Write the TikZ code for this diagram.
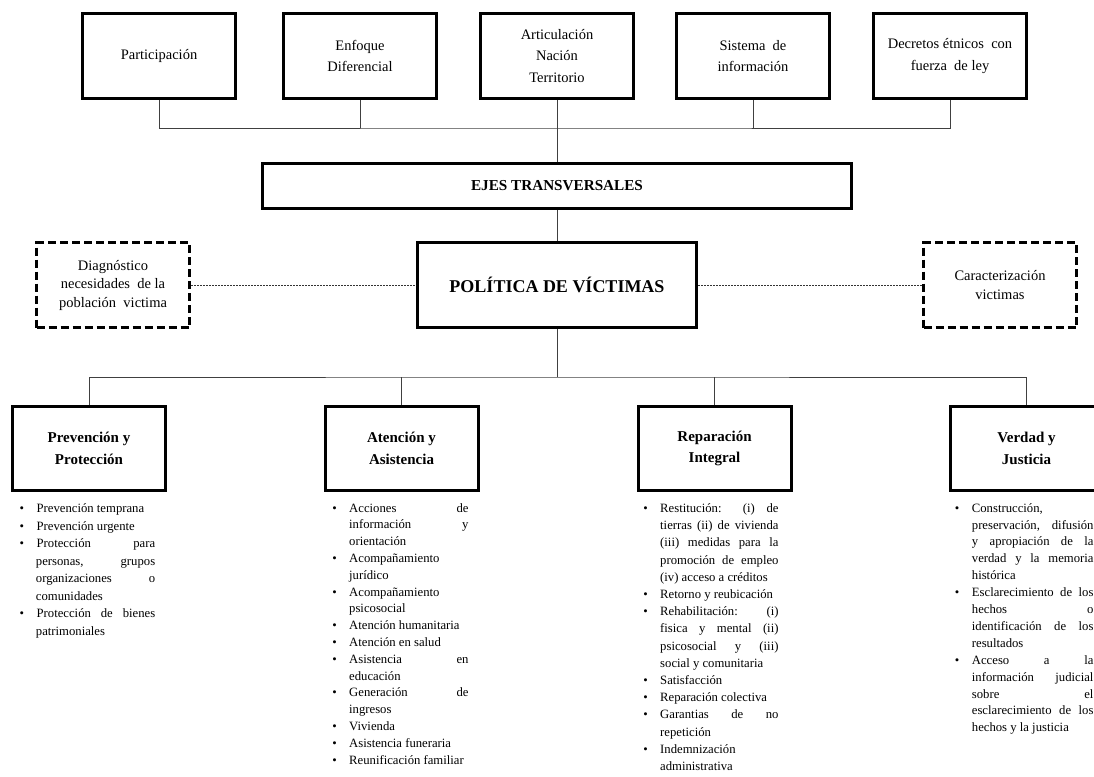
\documentclass[tikz,border=0pt]{standalone}
\usepackage{fontspec}
\setmainfont{Liberation Serif}
\newenvironment{bltlist}[1]{\begin{list}{\textbullet}{\setlength\leftmargin{#1}\setlength\labelsep{12.5pt}\setlength\labelwidth{\dimexpr#1-12.5pt\relax}\setlength\itemsep{0pt}\setlength\parsep{0pt}\setlength\topsep{0pt}\setlength\partopsep{0pt}\setlength\itemindent{0pt}\setlength\listparindent{0pt}\setlength\rightmargin{0pt}}\hyphenpenalty=10000 \exhyphenpenalty=10000 \tolerance=10000 \hbadness=10000 \parskip=0pt}{\end{list}}
\begin{document}
\begin{tikzpicture}[x=1pt,y=-1pt,
  box/.style={draw, line width=3pt, inner sep=0pt, align=center, minimum width=153, minimum height=85},
  topfont/.style={font=\fontsize{14.5}{21.5}\selectfont},
  headfont/.style={font=\fontsize{15}{21.7}\selectfont\bfseries},
  dbox/.style={box, dash pattern=on 8pt off 4pt, font=\fontsize{14.5}{18.5}\selectfont},
  conn/.style={draw=black!75, line width=1pt},
  dconn/.style={draw=black!80, line width=0.9pt, dash pattern=on 2pt off 1pt},
  lst/.style n args={2}{anchor=north west, inner sep=0pt, text width=#1, align=justify, font=\fontsize{12.7}{#2}\selectfont}
]
\useasboundingbox (0,0) rectangle (1094,776);
\clip (0,0) rectangle (1094,776);

% top boxes
\node[box, topfont] (p1) at (159,56) {Participación};
\node[box, topfont] (p2) at (360,56) {Enfoque\\Diferencial};
\node[box, topfont] (p3) at (557,56) {Articulación\\Nación\\Territorio};
\node[box, topfont] (p4) at (753,56) {Sistema\ \ de\\información};
\node[box, topfont] (p5) at (950,56) {Decretos étnicos\ \ con\\fuerza\ \ de ley};

% central
\node[box, minimum width=589, minimum height=45, font=\fontsize{15.2}{18}\selectfont\bfseries] (ejes) at (557,186) {EJES TRANSVERSALES};
\node[box, minimum width=279, minimum height=85, font=\fontsize{18}{22}\selectfont\bfseries] (pol) at (557,285) {POLÍTICA DE VÍCTIMAS};
\node[dbox] (diag) at (113,285) {Diagnóstico\\necesidades\ \ de la\\población\ \ victima};
\node[dbox] (car) at (1000,285) {Caracterización\\victimas};

% bottom boxes
\node[box, headfont, minimum height=84] (b1) at (89,448.5) {Prevención y\\Protección};
\node[box, headfont, minimum height=84] (b2) at (401.5,448.5) {Atención y\\Asistencia};
\node[box, headfont, minimum height=84] (b3) at (714.5,448.5) {Reparación\\Integral};
\node[box, headfont, minimum height=84] (b4) at (1026.5,448.5) {Verdad y\\Justicia};

% connectors
\coordinate (tl) at (557,128);
\coordinate (bl) at (557,377);
\draw[conn] (p1.south) |- (tl) -| (p5.south);
\draw[conn] (p2.south) -- (p2.south |- tl);
\draw[conn] (p4.south) -- (p4.south |- tl);
\draw[conn] (p3.south) -- (ejes.north);
\draw[conn] (ejes.south) -- (pol.north);
\draw[conn] (pol.south) -- (bl);
\draw[conn] (b1.north) |- (bl) -| (b4.north);
\draw[conn] (b2.north) -- (b2.north |- bl);
\draw[conn] (b3.north) -- (b3.north |- bl);
\draw[dconn] (diag.east) -- (pol.west);
\draw[dconn] (pol.east) -- (car.west);

% lists
\node[lst={135.5}{17.5}] (l1) at (19.5,495) {\begin{bltlist}{16.2pt}
\item Prevención temprana
\item Prevención urgente
\item Protección para\linebreak personas, grupos\linebreak organizaciones o\linebreak comunidades
\item Protección de bienes\linebreak patrimoniales
\end{bltlist}};
\node[lst={137.3}{16.8}] (l2) at (331,495) {\begin{bltlist}{18pt}
\item Acciones de\linebreak información y\linebreak orientación
\item Acompañamiento\linebreak jurídico
\item Acompañamiento\linebreak psicosocial
\item Atención humanitaria
\item Atención en salud
\item Asistencia en\linebreak educación
\item Generación de\linebreak ingresos
\item Vivienda
\item Asistencia funeraria
\item Reunificación familiar
\end{bltlist}};
\node[lst={136.5}{17.2}] (l3) at (641.8,495) {\begin{bltlist}{18.2pt}
\item Restitución: (i) de\linebreak tierras (ii) de vivienda\linebreak (iii) medidas para la\linebreak promoción de empleo\linebreak (iv) acceso a créditos
\item Retorno y reubicación
\item Rehabilitación: (i)\linebreak fisica y mental (ii)\linebreak psicosocial y (iii)\linebreak social y comunitaria
\item Satisfacción
\item Reparación colectiva
\item Garantias de no\linebreak repetición
\item Indemnización\linebreak administrativa
\end{bltlist}};
\node[lst={139.5}{16.9}] (l4) at (953.8,495) {\begin{bltlist}{17.9pt}
\item Construcción,\linebreak preservación, difusión\linebreak y apropiación de la\linebreak verdad y la memoria\linebreak histórica
\item Esclarecimiento de los\linebreak hechos o\linebreak identificación de los\linebreak resultados
\item Acceso a la\linebreak información judicial\linebreak sobre el\linebreak esclarecimiento de los\linebreak hechos y la justicia
\end{bltlist}};
\end{tikzpicture}
\end{document}
